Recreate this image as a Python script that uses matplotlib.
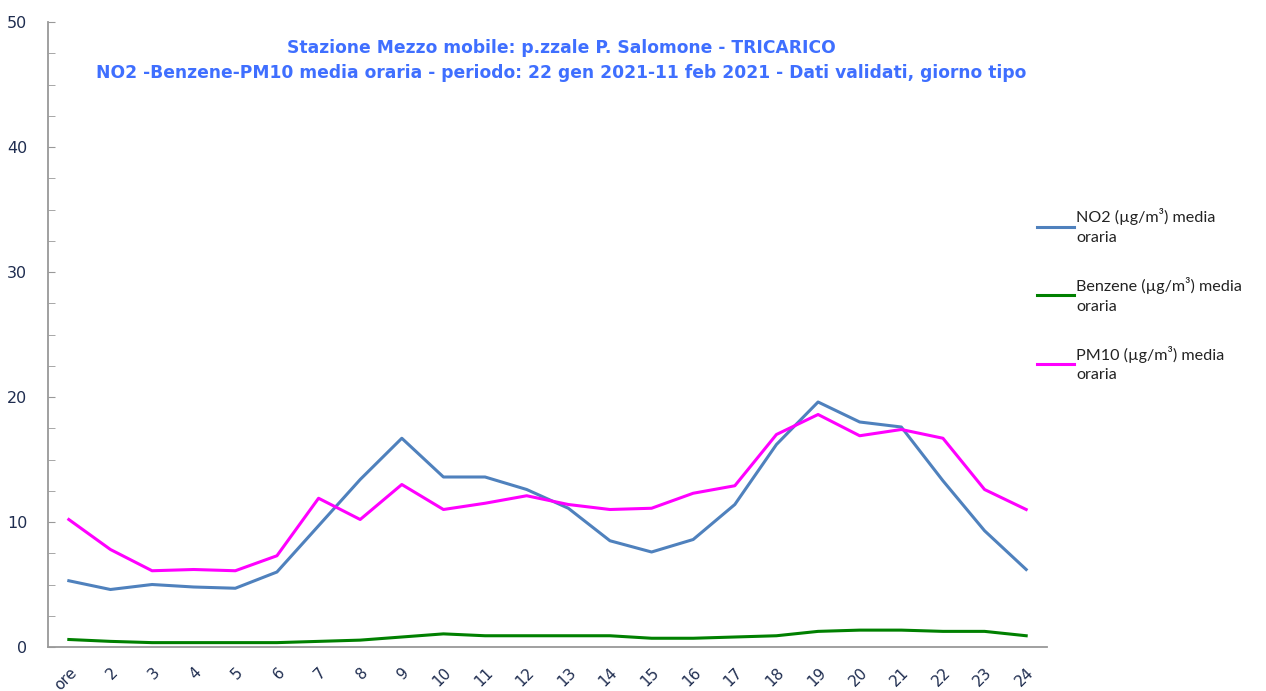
import matplotlib
matplotlib.use('Agg')
import matplotlib.pyplot as plt
from matplotlib.ticker import MultipleLocator

# ore del giorno tipo
ore = ['ore', '2', '3', '4', '5', '6', '7', '8', '9', '10', '11', '12',
       '13', '14', '15', '16', '17', '18', '19', '20', '21', '22', '23', '24']

no2 = [5.3, 4.6, 5.0, 4.8, 4.7, 6.0, 9.7, 13.4, 16.7, 13.6, 13.6, 12.6,
       11.1, 8.5, 7.6, 8.6, 11.4, 16.2, 19.6, 18.0, 17.6, 13.3, 9.3, 6.2]
benzene = [0.6, 0.45, 0.35, 0.35, 0.35, 0.35, 0.45, 0.55, 0.8, 1.05, 0.9, 0.9,
           0.9, 0.9, 0.7, 0.7, 0.8, 0.9, 1.25, 1.35, 1.35, 1.25, 1.25, 0.9]
pm10 = [10.2, 7.8, 6.1, 6.2, 6.1, 7.3, 11.9, 10.2, 13.0, 11.0, 11.5, 12.1,
        11.4, 11.0, 11.1, 12.3, 12.9, 17.0, 18.6, 16.9, 17.4, 16.7, 12.6, 11.0]

etichette = ['NO2 (\u00b5g/m\u00b3) media\noraria',
             'Benzene (\u00b5g/m\u00b3) media\noraria',
             'PM10 (\u00b5g/m\u00b3) media\noraria']

titolo1 = 'Stazione Mezzo mobile: p.zzale P. Salomone - TRICARICO'
titolo2 = 'NO2 -Benzene-PM10 media oraria - periodo: 22 gen 2021-11 feb 2021 - Dati validati, giorno tipo'

fig = plt.figure(figsize=(12.66, 6.91), dpi=100)
ax = fig.add_axes([48 / 1266, 1 - 647 / 691, (1047 - 48) / 1266, (647 - 22) / 691])

x = list(range(len(ore)))
ax.plot(x, no2, color='#4F81BD', lw=2.2, label=etichette[0])
ax.plot(x, benzene, color='#008000', lw=2.2, label=etichette[1])
ax.plot(x, pm10, color='#FF00FF', lw=2.2, label=etichette[2])

ax.set_xlim(-0.5, len(ore) - 0.5)
ax.set_ylim(0, 50)
ax.yaxis.set_major_locator(MultipleLocator(10))
ax.yaxis.set_minor_locator(MultipleLocator(2.5))
ax.set_xticks(x)
ax.set_xticklabels(ore, rotation=45, ha='right', rotation_mode='anchor',
                   fontsize=11, color='#1F2D50')
for t in ax.get_yticklabels():
    t.set_fontsize(11.5)
    t.set_color('#1F2D50')
ax.tick_params(axis='y', which='both', direction='in', length=5, color='#999999', pad=15)
ax.tick_params(axis='x', length=0, pad=13)

for s in ['top', 'right']:
    ax.spines[s].set_visible(False)
ax.spines['left'].set_color('#999999')
ax.spines['bottom'].set_color('#999999')
ax.spines['left'].set_linewidth(1.3)
ax.spines['bottom'].set_linewidth(1.3)

fig.text(561 / 1266, 1 - 48 / 691, titolo1, ha='center', va='center',
         fontsize=12.3, fontweight='bold', color='#3F6FFF')
fig.text(561 / 1266, 1 - 73 / 691, titolo2, ha='center', va='center',
         fontsize=12.3, fontweight='bold', color='#3F6FFF')

leg = fig.legend(loc='upper left', bbox_to_anchor=(1022 / 1266, 1 - 194 / 691),
                 frameon=False, prop={'family': 'Lato', 'size': 11.6},
                 handlelength=2.3, handletextpad=0.15, labelspacing=2.0)
for t in leg.get_texts():
    t.set_linespacing(1.5)
    t.set_color('#222222')

fig.savefig('out.png', dpi=100)
